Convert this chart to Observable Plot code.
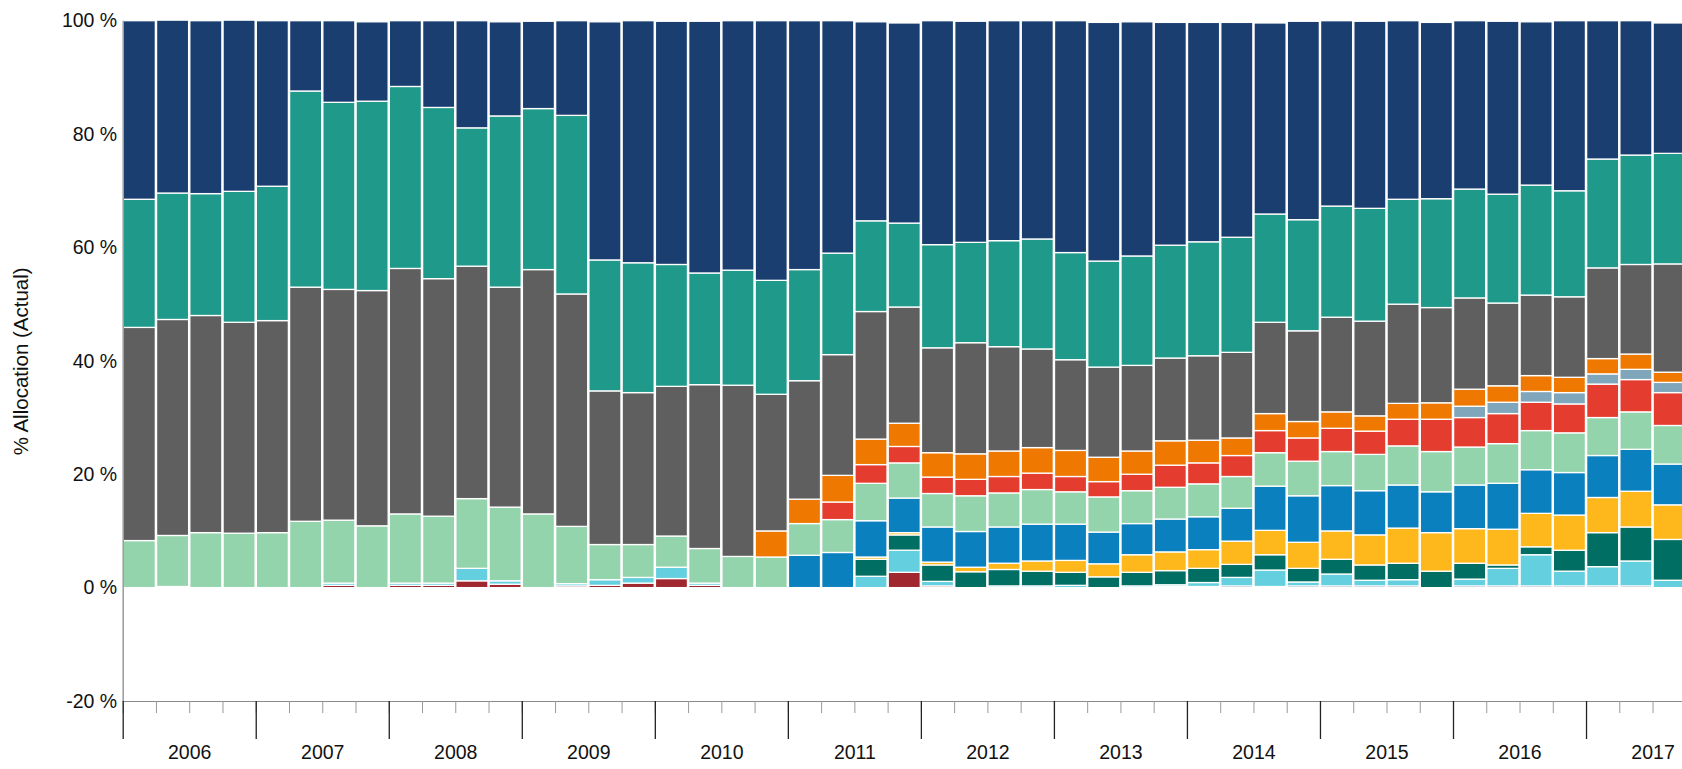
<!DOCTYPE html>
<html>
<head>
<meta charset="utf-8">
<script src="https://cdn.jsdelivr.net/npm/d3@7"></script>
<script src="https://cdn.jsdelivr.net/npm/@observablehq/plot@0.6"></script>
<style>
  html, body { margin: 0; padding: 0; background: #fff; overflow: hidden; }
  #chart svg { display: block; }
</style>
</head>
<body>
<div id="chart"></div>
<script>
// ---- Categories -------------------------------------------------------
const quarters = [
  "2006 Q1","2006 Q2","2006 Q3","2006 Q4",
  "2007 Q1","2007 Q2","2007 Q3","2007 Q4",
  "2008 Q1","2008 Q2","2008 Q3","2008 Q4",
  "2009 Q1","2009 Q2","2009 Q3","2009 Q4",
  "2010 Q1","2010 Q2","2010 Q3","2010 Q4",
  "2011 Q1","2011 Q2","2011 Q3","2011 Q4",
  "2012 Q1","2012 Q2","2012 Q3","2012 Q4",
  "2013 Q1","2013 Q2","2013 Q3","2013 Q4",
  "2014 Q1","2014 Q2","2014 Q3","2014 Q4",
  "2015 Q1","2015 Q2","2015 Q3","2015 Q4",
  "2016 Q1","2016 Q2","2016 Q3","2016 Q4",
  "2017 Q1","2017 Q2","2017 Q3"
];
const years = [2006,2007,2008,2009,2010,2011,2012,2013,2014,2015,2016,2017];
const yTicks = [-20, 0, 20, 40, 60, 80, 100];
const yTitle = "% Allocation (Actual)";

// ---- Series (bottom of stack first) -----------------------------------
const seriesNames  = ["Dark red","Navy (small)","Cyan","Dark teal","Yellow","Blue","Light green","Red","Grey blue","Orange","Grey","Teal","Navy"];
const seriesColors = ["#a1272e","#1b3d6b","#63cfdf","#006e63","#feb81c","#0b80bf","#94d4ac","#e53c30","#7fa6ba","#ef7900","#5f5f5f","#1f998a","#1a3e70"];

const darkRed = [0,0,0,0,0,0,0.4,0,0.4,0.4,1.2,0.6, 0,0.3,0.4,0.8,1.6,0.4,0,0,0,0,0,2.7, 0.3,0,0,0,0,0,0,0,0,0,0,0, 0,0,0,0,0,0,0,0,0,0,0];
const navySmall = [0,0,0,0,0,0,0,0,0,0,0,0, 0,0,0,0,0,0,0,0,0,0,0,0, 0,0,0,0,0,0,0,0.2,0.2,0.3,0.2,0.3, 0.3,0.3,0.3,0,0.3,0.3,0.3,0.3,0.3,0.3,0];
const cyan = [0,0.2,0,0,0,0,0.4,0,0.4,0.4,2.2,0.6, 0,0.4,1.0,1.0,2.0,0.4,0,0,0,0,2.0,3.9, 0.8,0,0.3,0.3,0.4,0,0.3,0.3,0.7,1.5,2.9,0.7, 2.1,1.0,1.1,0,1.2,3.1,5.5,2.6,3.4,4.4,1.3];
const darkTeal = [0,0,0,0,0,0,0,0,0,0,0,0, 0,0,0,0,0,0,0,0,0,0,3.0,2.7, 2.9,2.8,2.9,2.6,2.3,1.9,2.4,2.5,2.5,2.3,2.7,2.4, 2.6,2.7,2.9,2.9,2.8,0.6,1.4,3.7,6.0,6.0,7.2];
const yellow = [0,0,0,0,0,0,0,0,0,0,0,0, 0,0,0,0,0,0,0,0,0,0,0.4,0.4, 0.5,0.8,1.1,1.8,2.1,2.3,3.1,3.3,3.3,4.1,4.3,4.6, 5.0,5.3,6.2,6.8,6.1,6.3,5.9,6.2,6.2,6.3,6.1];
const blue = [0,0,0,0,0,0,0,0,0,0,0,0, 0,0,0,0,0,0,0,0,5.7,6.2,6.4,6.1, 6.2,6.3,6.4,6.5,6.4,5.6,5.5,5.8,5.8,5.8,7.8,8.2, 8.0,7.8,7.6,7.2,7.7,8.1,7.7,7.5,7.4,7.4,7.2];
const lightGreen = [8.3,9.0,9.7,9.6,9.7,11.7,11.1,10.9,12.2,11.8,12.3,13.0, 13.0,10.1,6.2,5.8,5.5,6.1,5.5,5.4,5.6,5.8,6.6,6.2, 5.9,6.3,6.0,6.1,5.7,6.2,5.8,5.6,5.8,5.6,5.9,6.1, 6.0,6.4,6.9,7.1,6.7,7.0,6.9,7.0,6.7,6.6,6.8];
const red = [0,0,0,0,0,0,0,0,0,0,0,0, 0,0,0,0,0,0,0,0,0,3.1,3.3,2.9, 2.9,2.9,2.9,2.9,2.7,2.7,2.9,3.9,3.7,3.7,3.9,4.1, 4.1,4.1,4.7,5.7,5.2,5.3,5.0,5.1,5.9,5.7,5.8];
const greyBlue = [0,0,0,0,0,0,0,0,0,0,0,0, 0,0,0,0,0,0,0,0,0,0,0,0, 0,0,0,0,0,0,0,0,0,0,0,0, 0,0,0,0,2.0,2.0,1.9,2.0,1.8,1.8,1.8];
const orange = [0,0,0,0,0,0,0,0,0,0,0,0, 0,0,0,0,0,0,0,4.6,4.3,4.7,4.5,4.1, 4.3,4.5,4.5,4.5,4.6,4.3,4.1,4.3,4.0,3.1,3.0,2.9, 2.9,2.7,2.8,2.9,3.0,2.9,2.8,2.7,2.7,2.7,1.8];
const grey = [37.6,38.1,38.3,37.2,37.4,41.3,40.7,41.5,43.3,41.9,41.0,38.8, 43.1,41.0,27.1,26.8,26.4,28.9,30.2,24.1,20.9,21.3,22.5,20.5, 18.5,19.6,18.4,17.4,16.0,15.9,15.1,14.6,14.9,15.1,16.1,16.0, 16.7,16.7,17.5,16.8,16.1,14.6,14.2,14.2,16.0,15.8,19.1];
const teal = [22.6,22.3,21.5,23.1,23.7,34.6,33.0,33.4,32.1,30.2,24.4,30.2, 28.4,31.5,23.1,22.9,21.5,19.7,20.3,20.1,19.6,17.9,16.0,14.8, 18.2,17.7,18.7,19.4,18.9,18.7,19.3,19.9,20.1,20.3,19.1,19.6, 19.6,19.9,18.5,19.2,19.2,19.2,19.4,18.7,19.2,19.3,19.5];
const navy = [31.5,30.5,30.5,30.2,29.2,12.4,14.4,14.0,11.6,15.3,18.9,16.6, 15.4,16.7,42.0,42.7,42.9,44.4,44.0,45.8,43.9,41.0,35.1,35.3, 39.5,39.0,38.8,38.5,40.9,42.1,41.3,39.3,38.7,37.9,33.7,35.0, 32.7,33.0,31.5,31.1,29.7,30.5,28.8,30.0,24.4,23.7,23.0];

const seriesValues = [darkRed, navySmall, cyan, darkTeal, yellow, blue, lightGreen, red, greyBlue, orange, grey, teal, navy];

// ---- Tidy table for Plot ----------------------------------------------
const quarterPos = q => { const [y, n] = q.split(" Q").map(Number); return y + (n - 1) / 4; };
const rows = [];
seriesNames.forEach((name, s) => {
  quarters.forEach((q, i) => {
    const t = quarterPos(q);
    rows.push({series: name, quarter: q, t1: t, t2: t + 0.25, value: seriesValues[s][i]});
  });
});
const quarterEdges = quarters.map(quarterPos);
const yearEdges = years;
const yearMids = years.map(y => y + 0.5);

const labelFont = "'Liberation Sans', Arial, sans-serif";

const chart = Plot.plot({
  width: 1682,
  height: 769,
  marginTop: 20.7,
  marginBottom: 68,
  marginLeft: 122.7,
  marginRight: 0,
  style: {fontFamily: labelFont, color: "#111", background: "#fff"},
  x: {type: "linear", domain: [2006, 2018], range: [122.7, 122.7 + 12 * 133.03]},
  y: {domain: [-20, 100]},
  color: {domain: seriesNames, range: seriesColors},
  marks: [
    Plot.rectY(rows, Plot.stackY({
      x1: "t1", x2: "t2", y: "value", z: "series", fill: "series",
      stroke: "white", strokeWidth: 1.3, insetLeft: 0.6, insetRight: 0.6
    })),
    // axis lines
    Plot.ruleX([quarterEdges[0]], {stroke: "#9a9a9a", strokeWidth: 1.5}),
    Plot.ruleY([yTicks[0]], {stroke: "#8a8a8a", strokeWidth: 1.2}),
    // y axis
    Plot.axisY({ticks: yTicks, tickFormat: d => `${d} %`, tickSize: 0, tickPadding: 6,
      fontSize: 19.5, fontFamily: labelFont, fill: "#111", label: null}),
    // x axis: quarter ticks, year ticks, year labels
    Plot.axisX({ticks: quarterEdges, tickSize: 12, tickFormat: () => "", stroke: "#9a9a9a", label: null}),
    Plot.axisX({ticks: yearEdges, tickSize: 38, tickFormat: () => "", stroke: "#222", strokeWidth: 1.3, label: null}),
    Plot.axisX({ticks: yearMids, tickSize: 0, tickPadding: 44, tickFormat: d => String(Math.floor(d)),
      fontSize: 19.5, fontFamily: labelFont, fill: "#111", label: null}),
    // y title
    Plot.text([yTitle], {frameAnchor: "left", textAnchor: "middle", rotate: -90, dx: -102,
      fontSize: 20.5, fontFamily: labelFont, fill: "#111"})
  ]
});
document.getElementById("chart").appendChild(chart);
</script>
</body>
</html>
